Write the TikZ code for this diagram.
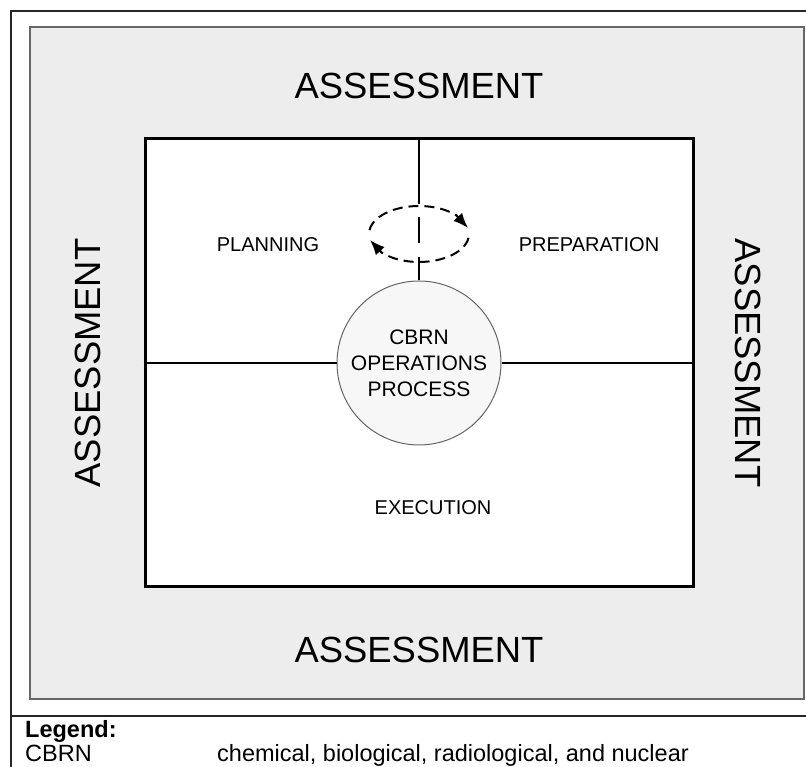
\documentclass[tikz,border=0pt]{standalone}
\usepackage{fontspec}
\setmainfont{Liberation Sans}
\usetikzlibrary{arrows.meta}

\begin{document}
\begin{tikzpicture}[x=1pt,y=1pt,
% common options for the big labels:
big/.style = {font=\fontsize{36.4}{40}\selectfont, inner sep=0},
% common options for the phase labels:
phase/.style = {font=\fontsize{20}{24}\selectfont, inner sep=0},
% common options for the legend:
legend/.style = {font=\fontsize{23.5}{28}\selectfont, anchor=base west, inner sep=0},
% common options for the cycle arrows:
turn/.style = {line width=2pt, dash pattern=on 10pt off 6pt},
head/.style = {line width=2pt, solid, -{Latex[length=15pt,width=12pt]}}]
\useasboundingbox (0,0) rectangle (806,767);
\draw[line width=2.5pt, black!85] (11,0) |- (806,756);
\draw[line width=2.5pt, black!85] (11,51) -- (806,51);
\draw[fill=black!7, draw=black!60, line width=1.2pt] (30,68) rectangle (804,740);

\node[draw, line width=3pt, fill=white, minimum width=548pt, minimum height=448pt] (B0) at (419,404) {};
\node[circle, draw=black!60, fill=black!3, line width=1pt, minimum size=164pt, inner sep=0,
      align=center, font=\fontsize{21}{26}\selectfont] (C0) at (419,404) {CBRN\\OPERATIONS\\PROCESS};

\draw[line width=2pt] (B0.west) -- (C0.west);
\draw[line width=2pt] (C0.east) -- (B0.east);
\draw[line width=2.8pt, dash pattern=on 67pt off 13pt on 26pt off 14pt on 60pt] (B0.north) -- (C0.north);

\coordinate (R0) at (419,533);
\draw[turn] ([shift={(172:50pt and 28pt)}]R0) arc[start angle=172, end angle=40, x radius=50pt, y radius=28pt];
\draw[head] ([shift={(37,19)}]R0) -- ([shift={(49,6)}]R0);
\draw[turn] ([shift={(-8:50pt and 28pt)}]R0) arc[start angle=-8, end angle=-140, x radius=50pt, y radius=28pt];
\draw[head] ([shift={(-37,-19)}]R0) -- ([shift={(-49,-6)}]R0);

\node[big] (A1) at (419,681) {ASSESSMENT};
\node[big] (A2) at (419,117) {ASSESSMENT};
\node[big, rotate=90] (A3) at (88,404) {ASSESSMENT};
\node[big, rotate=-90] (A4) at (748,404) {ASSESSMENT};

\node[phase] (P1) at (268,522) {PLANNING};
\node[phase] (P2) at (589,522) {PREPARATION};
\node[phase] (P3) at (433,259) {EXECUTION};

\node[legend, font=\fontsize{23.5}{28}\selectfont\bfseries] (L0) at (25,29) {Legend:};
\node[legend] (L1) at (25,5) {CBRN};
\node[legend] (L2) at (217,5) {chemical, biological, radiological, and nuclear};
\end{tikzpicture}
\end{document}
